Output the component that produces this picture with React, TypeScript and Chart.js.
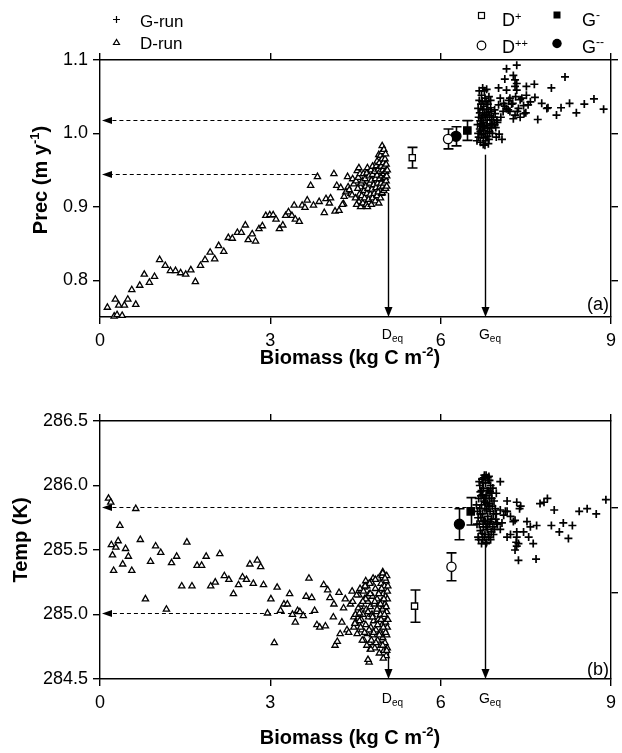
import React, { useEffect, useRef } from "react";
import { Chart, registerables } from "chart.js";

Chart.register(...registerables);

const FONT = '"Liberation Sans", Arial, Helvetica, sans-serif';
const W = 622;

// ---- axis ticks ----
const biomassTicks = [0, 3, 6, 9];
const precTicks = [0.8, 0.9, 1.0, 1.1];
const precRightTicks = [0.8, 0.9, 1.0, 1.1];
const tempTicks = [284.5, 285.0, 285.5, 286.0, 286.5];
const tempRightTicks = [285.17, 285.83];

// ---- D-run (triangles), panel (a): [biomass, prec] ----
const dRunPrec = [
  [0.13, 0.763], [0.25, 0.751], [0.30, 0.753], [0.39, 0.752], [0.27, 0.774], [0.33, 0.766], [0.43, 0.766], [0.49, 0.774], [0.56, 0.787], [0.63, 0.767],
  [0.70, 0.793], [0.78, 0.808], [0.87, 0.797], [0.96, 0.805], [1.05, 0.828], [1.15, 0.820], [1.24, 0.813], [1.33, 0.813], [1.42, 0.810], [1.51, 0.808],
  [1.60, 0.814], [1.68, 0.798], [1.77, 0.820], [1.85, 0.828], [1.94, 0.838], [2.02, 0.829], [2.09, 0.847], [2.18, 0.839], [2.26, 0.858], [2.33, 0.857],
  [2.42, 0.865], [2.49, 0.865], [2.56, 0.875], [2.61, 0.855], [2.68, 0.863], [2.74, 0.853], [2.80, 0.870], [2.86, 0.874], [2.92, 0.888], [2.99, 0.889],
  [3.05, 0.889], [3.10, 0.883], [3.16, 0.870], [3.22, 0.875], [3.27, 0.888], [3.32, 0.893], [3.38, 0.888], [3.44, 0.883], [3.42, 0.902], [3.51, 0.880],
  [3.56, 0.902], [3.61, 0.899], [3.65, 0.909], [3.71, 0.929], [3.76, 0.902], [3.83, 0.941], [3.86, 0.907], [3.95, 0.892], [3.98, 0.911], [4.04, 0.905],
  [4.06, 0.912], [4.12, 0.945], [4.14, 0.894], [4.17, 0.929], [4.21, 0.895], [4.24, 0.926], [4.29, 0.904], [4.33, 0.920], [4.36, 0.941], [4.37, 0.927],
  [4.42, 0.918], [4.45, 0.938], [4.47, 0.931], [4.53, 0.949], [4.56, 0.907], [4.59, 0.927], [4.39, 0.923], [4.30, 0.914], [4.27, 0.903], [4.44, 0.916],
  [4.50, 0.912], [4.51, 0.935], [4.52, 0.903], [4.54, 0.925], [4.55, 0.940], [4.57, 0.917], [4.58, 0.945], [4.59, 0.900], [4.60, 0.932], [4.56, 0.953],
  [4.61, 0.915], [4.62, 0.935], [4.63, 0.905], [4.64, 0.945], [4.65, 0.922], [4.66, 0.912], [4.67, 0.938], [4.68, 0.928], [4.69, 0.903], [4.70, 0.918],
  [4.70, 0.946], [4.71, 0.953], [4.71, 0.900], [4.72, 0.925], [4.73, 0.910], [4.74, 0.942], [4.75, 0.932], [4.76, 0.917], [4.77, 0.950], [4.78, 0.903],
  [4.78, 0.936], [4.79, 0.924], [4.80, 0.912], [4.80, 0.944], [4.80, 0.955], [4.82, 0.930], [4.83, 0.918], [4.84, 0.948], [4.85, 0.908], [4.85, 0.938],
  [4.86, 0.926], [4.87, 0.956], [4.88, 0.915], [4.88, 0.943], [4.88, 0.962], [4.89, 0.932], [4.90, 0.920], [4.90, 0.951], [4.91, 0.905], [4.91, 0.971],
  [4.92, 0.938], [4.92, 0.960], [4.93, 0.927], [4.93, 0.948], [4.94, 0.970], [4.94, 0.912], [4.95, 0.932], [4.95, 0.955], [4.96, 0.918], [4.96, 0.942],
  [4.97, 0.965], [4.97, 0.975], [4.97, 0.983], [4.97, 0.919], [4.98, 0.928], [4.98, 0.950], [4.99, 0.938], [4.99, 0.960], [5.00, 0.922], [5.00, 0.945],
  [5.00, 0.978], [5.01, 0.932], [5.01, 0.955], [5.02, 0.940], [5.02, 0.965], [5.03, 0.925], [5.03, 0.948], [5.03, 0.972], [5.04, 0.935], [5.04, 0.958],
  [5.05, 0.942], [5.05, 0.928], [5.06, 0.950],
];

// ---- G-run (crosses), panel (a): [biomass, prec] ----
const gRunPrec = [
  [6.64, 0.990], [6.66, 1.000], [6.65, 1.012], [6.67, 1.022], [6.66, 1.034], [6.68, 1.045], [6.67, 0.995], [6.69, 1.006], [6.70, 1.017], [6.69, 1.028],
  [6.71, 1.040], [6.72, 1.052], [6.70, 0.988], [6.72, 0.998], [6.73, 1.010], [6.72, 1.021], [6.74, 1.032], [6.73, 1.044], [6.75, 0.985], [6.75, 0.994],
  [6.76, 1.004], [6.75, 1.015], [6.77, 1.026], [6.76, 1.037], [6.78, 1.048], [6.77, 1.058], [6.79, 0.990], [6.79, 1.000], [6.80, 1.011], [6.79, 1.022],
  [6.81, 1.033], [6.80, 1.043], [6.82, 0.996], [6.83, 1.007], [6.82, 1.018], [6.84, 1.029], [6.83, 1.040], [6.85, 1.050], [6.85, 0.992], [6.86, 1.002],
  [6.87, 1.013], [6.86, 1.024], [6.88, 1.035], [6.89, 1.008], [6.90, 1.019], [6.89, 1.030], [6.91, 1.000], [6.92, 1.012], [6.68, 1.058], [6.74, 1.062],
  [6.81, 1.060], [6.70, 1.003], [6.78, 0.984], [6.84, 0.986], [6.74, 1.024], [6.81, 1.026], [6.77, 1.009], [6.71, 1.013], [6.88, 1.045], [6.93, 1.022],
  [6.95, 1.032], [6.97, 1.008], [7.00, 1.015], [6.98, 0.995], [7.08, 0.992], [7.10, 1.030], [7.06, 1.022], [7.13, 1.037], [7.20, 1.045], [7.27, 1.041],
  [7.32, 1.050], [7.22, 1.030], [7.35, 1.030], [7.28, 1.020], [7.40, 1.022], [7.46, 1.038], [7.58, 1.043], [7.50, 1.028],
  [7.16, 1.088], [7.34, 1.093], [7.13, 1.074], [7.28, 1.079], [7.31, 1.073], [7.34, 1.068], [7.31, 1.064], [7.34, 1.059], [7.51, 1.064], [7.65, 1.067],
  [8.19, 1.077], [7.95, 1.062], [7.02, 1.062], [7.16, 1.059], [7.51, 1.052], [7.66, 1.049], [7.40, 1.046], [7.54, 1.039], [7.78, 1.041], [7.87, 1.034],
  [7.89, 1.035], [8.12, 1.035], [8.27, 1.041], [8.53, 1.040], [8.70, 1.047], [8.87, 1.033], [8.39, 1.028], [8.04, 1.025], [7.71, 1.019], [7.47, 1.027],
  [7.31, 1.025], [7.19, 1.032], [7.11, 1.041], [7.05, 1.048], [7.02, 1.039], [6.96, 1.027], [6.99, 1.018], [6.95, 1.012], [7.03, 0.999], [7.22, 1.048],
  [7.25, 1.040], [7.16, 1.034], [7.37, 1.034], [7.43, 1.048],
];

// ---- D-run (triangles), panel (b): [biomass, temp] ----
const dRunTemp = [
  [0.15, 285.90], [0.19, 285.87], [0.63, 285.82], [0.35, 285.69], [0.20, 285.54], [0.32, 285.57], [0.28, 285.52], [0.45, 285.51], [0.22, 285.46], [0.50, 285.45],
  [0.40, 285.39], [0.24, 285.34], [0.56, 285.34], [0.71, 285.58], [0.98, 285.53], [1.07, 285.48], [0.89, 285.41], [0.80, 285.12], [1.17, 285.04], [1.26, 285.40],
  [1.35, 285.45], [1.53, 285.56], [1.44, 285.22], [1.62, 285.22], [1.71, 285.38], [1.79, 285.38], [1.87, 285.45], [1.95, 285.22], [2.03, 285.25], [2.11, 285.47],
  [2.19, 285.30], [2.27, 285.27], [2.35, 285.16], [2.44, 285.23], [2.51, 285.29], [2.58, 285.27], [2.64, 285.39], [2.70, 285.24], [2.77, 285.42], [2.83, 285.37],
  [2.88, 285.23], [2.95, 285.01], [3.01, 285.12], [3.07, 284.78], [3.12, 285.21], [3.18, 285.03], [3.24, 285.08], [3.30, 285.08], [3.34, 285.16], [3.39, 285.00],
  [3.44, 284.94], [3.48, 285.03], [3.52, 285.02], [3.58, 284.99], [3.68, 285.28], [3.63, 285.14], [3.73, 285.13], [3.78, 285.03], [3.82, 284.92], [3.87, 284.90],
  [3.94, 285.23], [3.97, 284.91], [4.01, 285.19], [4.05, 285.13], [4.11, 284.98], [4.12, 285.08], [4.14, 284.76], [4.18, 284.79], [4.21, 285.17], [4.23, 284.85],
  [4.26, 284.94], [4.29, 285.05], [4.32, 285.12], [4.35, 284.88], [4.38, 284.86], [4.41, 285.08], [4.44, 285.18], [4.47, 284.98], [4.50, 284.94], [4.56, 285.15],
  [4.58, 285.06], [4.60, 284.96], [4.65, 285.21], [4.68, 285.26], [4.74, 285.24], [4.74, 284.63], [4.76, 284.73], [4.81, 285.28], [4.98, 285.33],
  [4.45, 285.10], [4.47, 284.90], [4.50, 285.00], [4.52, 285.15], [4.53, 284.85], [4.55, 285.05], [4.57, 284.95], [4.58, 285.20], [4.60, 285.08], [4.61, 284.88],
  [4.63, 285.00], [4.64, 285.18], [4.65, 284.80], [4.66, 285.12], [4.68, 284.92], [4.69, 285.04], [4.70, 285.22], [4.71, 284.85], [4.72, 285.10], [4.73, 284.98],
  [4.74, 285.16], [4.75, 284.78], [4.76, 285.06], [4.77, 284.90], [4.78, 285.25], [4.79, 285.00], [4.80, 284.84], [4.80, 285.14], [4.82, 284.95], [4.83, 285.08],
  [4.84, 284.74], [4.85, 285.20], [4.86, 284.88], [4.87, 285.02], [4.88, 285.12], [4.89, 284.80], [4.90, 285.28], [4.90, 284.96], [4.91, 285.06], [4.92, 284.70],
  [4.93, 285.18], [4.93, 284.86], [4.94, 285.00], [4.95, 285.24], [4.95, 284.76], [4.96, 285.10], [4.97, 284.92], [4.97, 285.30], [4.98, 284.82], [4.98, 285.04],
  [4.99, 285.16], [5.00, 284.72], [5.00, 284.98], [5.01, 285.22], [5.01, 284.88], [5.02, 285.08], [5.02, 284.78], [5.03, 285.14], [5.03, 284.94], [5.04, 285.26],
  [5.04, 284.68], [5.05, 285.02], [5.05, 284.84], [5.06, 285.18], [5.06, 284.74], [4.98, 285.32], [4.99, 284.66], [4.72, 284.65], [4.77, 284.73], [4.85, 285.27],
  [4.75, 285.24], [4.67, 285.22], [4.57, 285.01], [4.49, 284.93],
  [5.05, 285.30], [5.06, 285.12], [5.07, 284.96], [5.07, 285.22], [5.06, 284.90], [5.05, 284.72], [5.04, 285.06], [5.03, 284.86], [5.02, 285.28], [5.01, 285.00],
  [5.00, 285.12], [4.99, 284.90], [4.98, 284.76], [4.96, 285.20], [4.95, 284.96], [4.94, 285.08], [4.92, 284.84], [4.91, 285.16], [4.89, 284.92], [4.88, 285.04],
  [4.86, 284.78], [4.84, 285.10], [4.82, 284.86], [4.80, 284.98], [4.78, 284.80], [4.76, 285.16], [4.74, 284.88], [4.72, 285.02], [4.70, 284.76], [4.68, 285.12],
  [4.66, 284.86], [4.63, 285.10], [4.62, 284.80], [4.59, 284.90],
];

// ---- G-run (crosses), panel (b): [biomass, temp] ----
const gRunTemp = [
  [6.66, 285.60], [6.68, 285.70], [6.65, 285.80], [6.67, 285.90], [6.69, 286.00], [6.70, 285.65], [6.71, 285.75], [6.72, 285.85], [6.70, 285.95], [6.73, 286.05],
  [6.74, 285.58], [6.75, 285.68], [6.74, 285.78], [6.76, 285.88], [6.75, 285.98], [6.77, 286.08], [6.78, 285.62], [6.79, 285.72], [6.78, 285.82], [6.80, 285.92],
  [6.79, 286.02], [6.81, 285.56], [6.82, 285.66], [6.83, 285.76], [6.82, 285.86], [6.84, 285.96], [6.83, 286.06], [6.85, 285.60], [6.86, 285.70], [6.87, 285.80],
  [6.86, 285.90], [6.88, 286.00], [6.89, 285.64], [6.90, 285.74], [6.91, 285.84], [6.90, 285.94], [6.92, 285.68], [6.93, 285.78], [6.94, 285.88], [6.63, 285.85],
  [6.64, 285.70], [6.72, 285.55], [6.80, 285.55], [6.88, 285.58], [6.96, 285.82], [6.97, 285.74], [6.95, 285.66], [6.68, 286.03], [6.76, 286.06], [6.84, 286.04],
  [6.73, 285.63], [6.77, 285.73], [6.81, 285.81], [6.71, 285.92], [6.87, 285.95], [6.79, 285.87], [6.85, 285.84], [6.92, 285.98], [6.66, 285.75], [6.74, 285.93],
  [6.98, 285.78], [7.00, 285.70], [6.67, 285.58], [6.69, 285.82], [6.72, 285.96], [6.75, 285.72], [6.78, 285.90], [6.80, 285.68], [6.82, 285.96], [6.84, 285.62],
  [6.86, 285.86], [6.88, 285.72], [6.74, 286.02], [6.80, 286.08], [6.86, 286.04], [6.70, 285.78], [6.77, 285.60], [6.83, 285.70], [6.90, 285.90], [6.93, 285.62],
  [6.85, 286.07], [7.05, 286.03], [6.98, 285.94], [7.17, 285.88], [7.34, 285.87], [7.41, 285.84], [7.39, 285.82], [7.75, 285.86], [7.82, 285.87], [7.88, 285.90],
  [8.00, 285.81], [8.44, 285.80], [8.58, 285.82], [8.74, 285.78], [8.91, 285.89], [7.05, 285.81], [7.11, 285.77], [7.17, 285.80], [7.23, 285.76], [7.28, 285.72],
  [7.31, 285.73], [7.08, 285.71], [6.99, 285.71], [7.05, 285.66], [7.34, 285.64], [7.52, 285.72], [7.58, 285.68], [7.69, 285.69], [7.95, 285.69], [8.16, 285.71],
  [8.32, 285.69], [8.09, 285.64], [8.25, 285.59], [7.63, 285.55], [7.55, 285.60], [7.46, 285.64], [7.34, 285.60], [7.23, 285.62], [7.17, 285.60], [7.33, 285.56],
  [7.34, 285.53], [7.37, 285.42], [7.68, 285.43], [7.37, 285.55], [7.31, 285.50], [7.14, 285.80],
];

// ---- equilibrium biomass (D_eq, G_eq) and arrow start levels ----
const eqNames = ["D", "G"];
const eqBiomass = [5.07, 6.78];
const eqPrecStart = [0.919, 0.971];
const eqTempStart = [284.71, 285.58];

// ---- dashed reference levels (value, biomass where the dashed line starts) ----
const precRefLevels = [1.018, 0.945];
const precRefBiomass = [6.7, 3.8];
const tempRefLevels = [285.83, 285.01];
const tempRefBiomass = [6.7, 3.75];

// ---- sensitivity experiments: D+, D++, G-, G-- (value +/- error) ----
const expNames = ["D+", "D++", "G-", "G--"];
const expBiomassPrec = [5.5, 6.13, 6.47, 6.27];
const expPrec = [0.967, 0.9925, 1.004, 0.996];
const expPrecErr = [0.014, 0.0135, 0.0135, 0.013];
const expBiomassTemp = [5.54, 6.19, 6.53, 6.33];
const expTemp = [285.065, 285.37, 285.8, 285.7];
const expTempErr = [0.125, 0.108, 0.106, 0.12];

const expStyles = [
  { style: "rect", r: 4.4, fill: "#fff" },
  { style: "circle", r: 4.6, fill: "#fff" },
  { style: "rect", r: 5.2, fill: "#000" },
  { style: "circle", r: 5, fill: "#000" },
];

type Part = { t: string; size: number; bold?: boolean; dy?: number };

function fontOf(p: Part) {
  return `${p.bold ? "bold " : ""}${p.size}px ${FONT}`;
}

function drawParts(ctx: CanvasRenderingContext2D, parts: Part[], x: number, y: number, align: string) {
  let total = 0;
  const widths = parts.map((p) => {
    ctx.font = fontOf(p);
    const w = ctx.measureText(p.t).width;
    total += w;
    return w;
  });
  let cx = align === "left" ? x : align === "center" ? x - total / 2 : x - total;
  ctx.textAlign = "left";
  ctx.textBaseline = "alphabetic";
  ctx.fillStyle = "#000";
  parts.forEach((p, i) => {
    ctx.font = fontOf(p);
    ctx.fillText(p.t, cx, y + (p.dy || 0));
    cx += widths[i];
  });
}

function arrowDown(ctx: CanvasRenderingContext2D, x: number, tip: number) {
  ctx.beginPath();
  ctx.moveTo(x, tip);
  ctx.lineTo(x - 4, tip - 10);
  ctx.lineTo(x + 4, tip - 10);
  ctx.closePath();
  ctx.fill();
}

function arrowLeft(ctx: CanvasRenderingContext2D, tip: number, y: number) {
  ctx.beginPath();
  ctx.moveTo(tip, y);
  ctx.lineTo(tip + 10, y - 3.5);
  ctx.lineTo(tip + 10, y + 3.5);
  ctx.closePath();
  ctx.fill();
}

function panelPlugin(s: any) {
  return {
    id: "panel_" + s.key,
    beforeDatasetsDraw(chart: any) {
      const { ctx, chartArea } = chart;
      const xs = chart.scales.x;
      const ys = chart.scales.y;
      ctx.save();
      ctx.strokeStyle = "#000";
      ctx.fillStyle = "#000";
      // dashed reference lines with arrowheads at the y axis
      ctx.lineWidth = 1.1;
      s.refLevels.forEach((v: number, i: number) => {
        const py = Math.round(ys.getPixelForValue(v)) + 0.5;
        const x0 = xs.getPixelForValue(s.refBiomass[i]);
        const tip = chartArea.left + 2;
        ctx.setLineDash([4, 3]);
        ctx.beginPath();
        ctx.moveTo(x0, py);
        ctx.lineTo(tip + 9, py);
        ctx.stroke();
        ctx.setLineDash([]);
        arrowLeft(ctx, tip, py);
      });
      // vertical arrows at equilibrium biomass
      ctx.lineWidth = 1.4;
      eqBiomass.forEach((v, i) => {
        const px = Math.round(xs.getPixelForValue(v)) + 0.5;
        const y0 = ys.getPixelForValue(s.eqStart[i]);
        ctx.beginPath();
        ctx.moveTo(px, y0);
        ctx.lineTo(px, chartArea.bottom - 8);
        ctx.stroke();
        arrowDown(ctx, px, chartArea.bottom);
      });
      // error bars
      ctx.lineWidth = 1.6;
      s.expX.forEach((v: number, i: number) => {
        const px = Math.round(xs.getPixelForValue(v)) + 0.5;
        const yt = ys.getPixelForValue(s.expY[i] + s.expErr[i]);
        const yb = ys.getPixelForValue(s.expY[i] - s.expErr[i]);
        ctx.beginPath();
        ctx.moveTo(px, yt);
        ctx.lineTo(px, yb);
        ctx.moveTo(px - 5, yt);
        ctx.lineTo(px + 5, yt);
        ctx.moveTo(px - 5, yb);
        ctx.lineTo(px + 5, yb);
        ctx.stroke();
      });
      ctx.restore();
    },
    afterDraw(chart: any) {
      const { ctx, chartArea } = chart;
      const xs = chart.scales.x;
      ctx.save();
      // equilibrium labels under the axis
      eqBiomass.forEach((v, i) => {
        const px = xs.getPixelForValue(v);
        drawParts(ctx, [{ t: eqNames[i], size: 14 }, { t: "eq", size: 10, dy: 3 }], px - 6, chartArea.bottom + s.eqLabelDy, "left");
      });
      // x title
      drawParts(
        ctx,
        [
          { t: "Biomass (kg C m", size: 20, bold: true },
          { t: "-2", size: 13, bold: true, dy: -8 },
          { t: ")", size: 20, bold: true },
        ],
        350,
        s.xTitleY,
        "center"
      );
      // y title
      ctx.save();
      ctx.translate(s.yTitleX, s.yTitleY);
      ctx.rotate(-Math.PI / 2);
      drawParts(ctx, s.yTitle, 0, 0, "center");
      ctx.restore();
      // panel label
      drawParts(ctx, [{ t: s.panelLabel, size: 18 }], chartArea.right - 2, s.panelLabelY, "right");
      if (s.legend) {
        ctx.strokeStyle = "#000";
        ctx.fillStyle = "#000";
        ctx.lineWidth = 1.2;
        // G-run cross
        ctx.beginPath();
        ctx.moveTo(113, 19.5);
        ctx.lineTo(120, 19.5);
        ctx.moveTo(116.5, 16);
        ctx.lineTo(116.5, 23);
        ctx.stroke();
        drawParts(ctx, [{ t: "G-run", size: 17 }], 140, 27, "left");
        // D-run triangle
        ctx.beginPath();
        ctx.moveTo(116.5, 39.5);
        ctx.lineTo(113.5, 44.5);
        ctx.lineTo(119.5, 44.5);
        ctx.closePath();
        ctx.stroke();
        drawParts(ctx, [{ t: "D-run", size: 17 }], 140, 49, "left");
        // D+
        ctx.strokeRect(478.5, 12.5, 6, 6);
        drawParts(ctx, [{ t: "D", size: 18 }, { t: "+", size: 11, dy: -6 }], 502, 26, "left");
        // G-
        ctx.fillRect(553.5, 11.5, 7, 7);
        drawParts(ctx, [{ t: "G", size: 18 }, { t: "-", size: 12, dy: -7 }], 582, 26, "left");
        // D++
        ctx.beginPath();
        ctx.arc(481.5, 45.5, 4.3, 0, Math.PI * 2);
        ctx.stroke();
        drawParts(ctx, [{ t: "D", size: 18 }, { t: "++", size: 11, dy: -6 }], 502, 53, "left");
        // G--
        ctx.beginPath();
        ctx.arc(557, 43.5, 4.7, 0, Math.PI * 2);
        ctx.fill();
        drawParts(ctx, [{ t: "G", size: 18 }, { t: "--", size: 12, dy: -7 }], 582, 53, "left");
      }
      ctx.restore();
    },
  };
}

function makeConfig(s: any) {
  const grid = {
    drawOnChartArea: false,
    drawTicks: true,
    tickLength: 7,
    color: "#000",
    tickColor: "#000",
    lineWidth: 1.4,
    tickWidth: 1.4,
  };
  const border = { display: true, color: "#000", width: 1.4 };
  const tickFont = { family: FONT, size: 18 };
  const setTicks = (vals: number[]) => (scale: any) => {
    scale.ticks = vals.map((v) => ({ value: v }));
  };
  const toPts = (arr: number[][]) => arr.map(([x, y]) => ({ x, y }));
  return {
    type: "scatter",
    data: {
      datasets: [
        ...expNames.map((name, i) => ({
          label: name,
          data: [{ x: s.expX[i], y: s.expY[i] }],
          pointStyle: expStyles[i].style,
          pointRadius: expStyles[i].r,
          pointBackgroundColor: expStyles[i].fill,
          pointBorderColor: "#000",
          pointBorderWidth: 1.3,
        })),
        {
          label: "G-run",
          data: toPts(s.gRun),
          pointStyle: "cross",
          pointRadius: 4,
          pointBorderColor: "#000",
          pointBorderWidth: 1.7,
          clip: false,
        },
        {
          label: "D-run",
          data: toPts(s.dRun),
          pointStyle: "triangle",
          pointRadius: 3.6,
          pointBackgroundColor: "#fff",
          pointBorderColor: "#000",
          pointBorderWidth: 1.3,
          clip: false,
        },
      ],
    },
    options: {
      responsive: false,
      animation: false,
      devicePixelRatio: 1,
      events: [],
      layout: { padding: 0 },
      plugins: { legend: { display: false }, tooltip: { enabled: false } },
      scales: {
        x: {
          type: "linear",
          position: "bottom",
          min: 0,
          max: 9,
          grid,
          border,
          afterBuildTicks: setTicks(biomassTicks),
          ticks: { font: tickFont, color: "#000", padding: 6, maxRotation: 0, autoSkip: false, callback: (v: any) => String(v) },
          afterFit: (sc: any) => {
            sc.height = s.canvasH - s.bottom;
          },
        },
        x2: {
          type: "linear",
          axis: "x",
          position: "top",
          min: 0,
          max: 9,
          grid,
          border,
          afterBuildTicks: setTicks(biomassTicks),
          ticks: { display: false },
          afterFit: (sc: any) => {
            sc.height = s.top;
          },
        },
        y: {
          type: "linear",
          position: "left",
          min: s.yMin,
          max: s.yMax,
          grid,
          border,
          afterBuildTicks: setTicks(s.yTicks),
          ticks: { font: tickFont, color: "#000", padding: 5, callback: (v: any) => Number(v).toFixed(1) },
          afterFit: (sc: any) => {
            sc.width = 100;
          },
        },
        y2: {
          type: "linear",
          axis: "y",
          position: "right",
          min: s.yMin,
          max: s.yMax,
          grid,
          border,
          afterBuildTicks: setTicks(s.yRightTicks),
          ticks: { display: false },
          afterFit: (sc: any) => {
            sc.width = W - s.right;
          },
        },
      },
    },
    plugins: [panelPlugin(s)],
  };
}

const precSpec = {
  key: "a",
  offsetTop: 0,
  canvasH: 375,
  top: 60,
  bottom: 317,
  right: 614,
  yMin: 0.75,
  yMax: 1.1,
  yTicks: precTicks,
  yRightTicks: precRightTicks,
  dRun: dRunPrec,
  gRun: gRunPrec,
  expX: expBiomassPrec,
  expY: expPrec,
  expErr: expPrecErr,
  refLevels: precRefLevels,
  refBiomass: precRefBiomass,
  eqStart: eqPrecStart,
  eqLabelDy: 22,
  xTitleY: 364,
  yTitle: [
    { t: "Prec (m y", size: 20, bold: true },
    { t: "-1", size: 13, bold: true, dy: -8 },
    { t: ")", size: 20, bold: true },
  ],
  yTitleX: 47,
  yTitleY: 180,
  panelLabel: "(a)",
  panelLabelY: 310,
  legend: true,
};

const tempSpec = {
  key: "b",
  offsetTop: 375,
  canvasH: 378,
  top: 46,
  bottom: 304,
  right: 616,
  yMin: 284.5,
  yMax: 286.5,
  yTicks: tempTicks,
  yRightTicks: tempRightTicks,
  dRun: dRunTemp,
  gRun: gRunTemp,
  expX: expBiomassTemp,
  expY: expTemp,
  expErr: expTempErr,
  refLevels: tempRefLevels,
  refBiomass: tempRefBiomass,
  eqStart: eqTempStart,
  eqLabelDy: 24,
  xTitleY: 369,
  yTitle: [{ t: "Temp (K)", size: 20, bold: true }],
  yTitleX: 27,
  yTitleY: 165,
  panelLabel: "(b)",
  panelLabelY: 300,
  legend: false,
};

function Panel({ spec }: { spec: any }) {
  const ref = useRef<HTMLCanvasElement | null>(null);
  useEffect(() => {
    const chart = new Chart(ref.current as HTMLCanvasElement, makeConfig(spec) as any);
    return () => chart.destroy();
  }, [spec]);
  return (
    <canvas
      ref={ref}
      width={W}
      height={spec.canvasH}
      style={{ position: "absolute", left: 0, top: spec.offsetTop, width: W, height: spec.canvasH, display: "block" }}
    />
  );
}

export default function App() {
  return (
    <div style={{ position: "absolute", left: 0, top: 0, width: W, height: 753, background: "#fff", overflow: "hidden" }}>
      <Panel spec={precSpec} />
      <Panel spec={tempSpec} />
    </div>
  );
}
